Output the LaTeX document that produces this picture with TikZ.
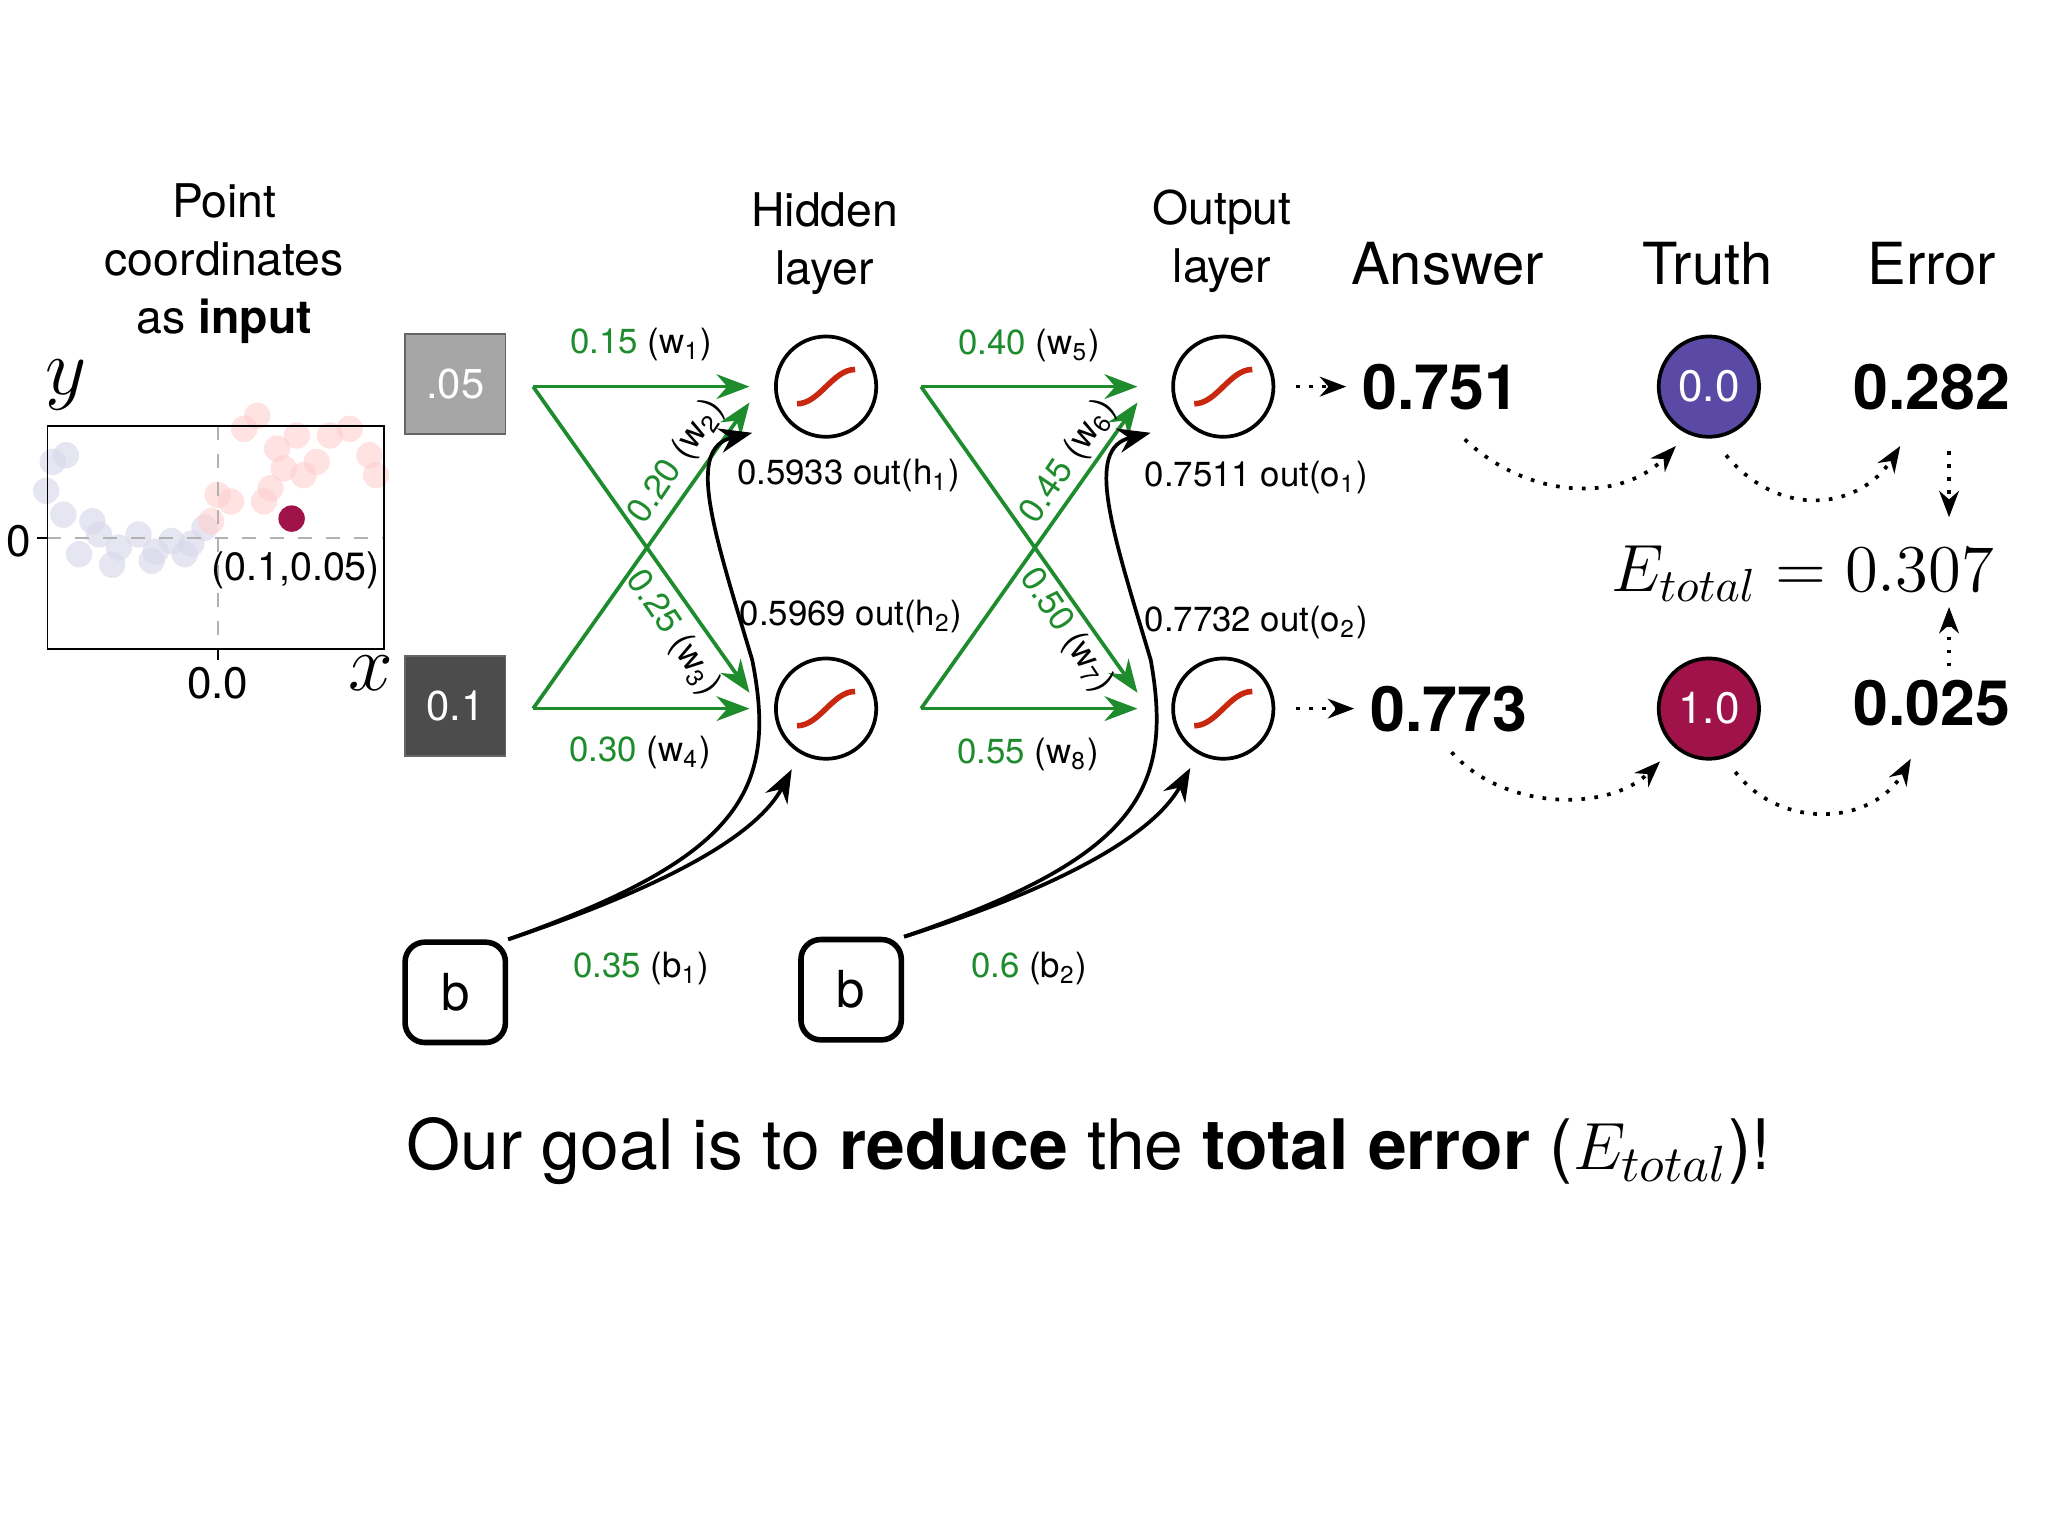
\documentclass[tikz,border=0pt]{standalone}
\usepackage{fontspec}
\setmainfont{TeX Gyre Heros}
\usetikzlibrary{arrows.meta}
\definecolor{gr}{HTML}{1E8C2D}
\definecolor{sig}{HTML}{C8280F}
\definecolor{tp}{HTML}{5B4AA5}
\definecolor{tr}{HTML}{A0124A}
\tikzset{
 neuron/.style={circle,draw,thick,minimum size=0.76cm,inner sep=0},
 inbox/.style={draw=black!60,minimum size=0.76cm,text=white,font=\fontsize{9}{9}\selectfont},
 bbox/.style={draw,very thick,rounded corners=0.15cm,minimum size=0.76cm,font=\fontsize{11}{11}\selectfont},
 garr/.style={gr,thick,-{Stealth[length=2.5mm]}},
 barr/.style={thick,-{Stealth[length=2.5mm]}},
 darr/.style={thick,dotted,-{Stealth[length=2mm]}},
 lbl/.style={font=\fontsize{7.5}{7.5}\selectfont},
 hdr/.style={font=\fontsize{12.5}{13}\selectfont},
 sm/.style={font=\fontsize{10}{12.5}\selectfont,align=center},
 big/.style={font=\bfseries\fontsize{13.5}{14}\selectfont},
}
\begin{document}
\begin{tikzpicture}[x=0.01cm,y=-0.01cm]
\useasboundingbox (0,0) rectangle (1552,1164);
% header texts
\node[sm] (pt) at (170,200) {Point\\coordinates\\as \textbf{input}};
\node[sm] (hl) at (625,185) {Hidden\\layer};
\node[sm] (ol) at (926,183) {Output\\layer};
\node[hdr] (ha) at (1097,200) {Answer};
\node[hdr] (ht) at (1294,200) {Truth};
\node[hdr] (he) at (1464,200) {Error};
% scatter plot
\foreach \p in {(40,350),(48,390),(60,420),(75,405),(90,415),(105,405),(118,418),(130,410),(145,412),(155,400),(85,428),(35,372),(70,395),(115,425),(140,420),(50,345)}
  \fill[blue!30!gray!25,opacity=0.6] \p circle [radius=0.1cm];
\foreach \p in {(165,375),(175,380),(185,325),(195,315),(210,340),(215,355),(225,330),(240,350),(250,330),(265,325),(280,345),(285,360),(205,370),(200,380),(160,395),(230,360)}
  \fill[red!40!pink!35,opacity=0.6] \p circle [radius=0.1cm];
\draw[thin,dashed,gray!60] (36,408) -- (291,408);
\draw[thin,dashed,gray!60] (165,323) -- (165,492);
\draw (36,323) rectangle (291,492);
\draw (28,408) -- (36,408);
\draw (165,492) -- (165,500);
\node[font=\fontsize{9.5}{10}\selectfont] (z0) at (14,410) {0};
\node[font=\fontsize{9.5}{10}\selectfont] (z1) at (165,518) {0.0};
\node[font=\fontsize{16}{16}\selectfont] (ya) at (50,292) {$y$};
\node[font=\fontsize{16}{16}\selectfont] (xa) at (281,510) {$x$};
\fill[tr] (221,393) circle [radius=0.1cm];
\node[font=\fontsize{8.5}{9}\selectfont] (pl) at (224,432) {(0.1,0.05)};
% inputs
\node[inbox,fill=black!35] (i1) at (345,291) {.05};
\node[inbox,fill=black!70] (i2) at (345,535) {0.1};
% neurons
\foreach \n/\x/\y in {h1/626/293,h2/626/537,o1/927/293,o2/927/537}{
 \node[neuron] (\n) at (\x,\y) {};
 \draw[sig,very thick,shift={(\n)}] (-22,13) .. controls (-5,13) and (5,-13) .. (22,-13);
}
% bias
\node[bbox] (b1) at (345,752) {b};
\node[bbox] (b2) at (645,750) {b};
% weights
\coordinate (s1) at (404,293); \coordinate (s2) at (404,537);
\coordinate (t1) at (568,293); \coordinate (t2) at (568,537);
\coordinate (t1b) at (568,305); \coordinate (t2b) at (568,525);
\draw[garr] (s1) -- (t1);
\draw[garr] (s1) -- (t2b);
\draw[garr] (s2) -- (t1b);
\draw[garr] (s2) -- (t2);
\coordinate (u1) at (698,293); \coordinate (u2) at (698,537);
\coordinate (v1) at (862,293); \coordinate (v2) at (862,537);
\coordinate (v1b) at (862,305); \coordinate (v2b) at (862,525);
\draw[garr] (u1) -- (v1);
\draw[garr] (u1) -- (v2b);
\draw[garr] (u2) -- (v1b);
\draw[garr] (u2) -- (v2);
\node[lbl] (w1) at (486,261) {\textcolor{gr}{0.15} (w\textsubscript{1})};
\node[lbl] (w4) at (485,570) {\textcolor{gr}{0.30} (w\textsubscript{4})};
\node[lbl,rotate=56] (w2) at (513,350) {\textcolor{gr}{0.20} (w\textsubscript{2})};
\node[lbl,rotate=-56] (w3) at (510,480) {\textcolor{gr}{0.25} (w\textsubscript{3})};
\node[lbl] (w5) at (780,262) {\textcolor{gr}{0.40} (w\textsubscript{5})};
\node[lbl] (w8) at (779,572) {\textcolor{gr}{0.55} (w\textsubscript{8})};
\node[lbl,rotate=56] (w6) at (810,350) {\textcolor{gr}{0.45} (w\textsubscript{6})};
\node[lbl,rotate=-56] (w7) at (808,478) {\textcolor{gr}{0.50} (w\textsubscript{7})};
% bias curves
\coordinate (bh1) at (570,328); \coordinate (bh2) at (600,583);
\coordinate (bo1) at (872,328); \coordinate (bo2) at (902,582);
\draw[barr] (b1.north east) .. controls (560,650) and (590,600) .. (570,500) .. controls (540,400) and (520,340) .. (bh1);
\draw[barr] (b1.north east) .. controls (480,680) and (570,640) .. (bh2);
\draw[barr] (b2.north east) .. controls (860,650) and (890,600) .. (872,500) .. controls (842,400) and (822,340) .. (bo1);
\draw[barr] (b2.north east) .. controls (780,680) and (870,640) .. (bo2);
\node[lbl] (lb1) at (486,734) {\textcolor{gr}{0.35} (b\textsubscript{1})};
\node[lbl] (lb2) at (780,734) {\textcolor{gr}{0.6} (b\textsubscript{2})};
% out labels
\node[lbl] (oh1) at (643,360) {0.5933 out(h\textsubscript{1})};
\node[lbl] (oh2) at (645,467) {0.5969 out(h\textsubscript{2})};
\node[lbl] (oo1) at (952,362) {0.7511 out(o\textsubscript{1})};
\node[lbl] (oo2) at (952,472) {0.7732 out(o\textsubscript{2})};
% answers
\node[big] (a1) at (1092,293) {0.751};
\node[big] (a2) at (1098,537) {0.773};
\coordinate (q1) at (982,293); \coordinate (q2) at (982,537);
\draw[darr] (q1) -- (a1.west);
\draw[darr] (q2) -- (a2.west);
\node[neuron,fill=tp,text=white,font=\fontsize{9.5}{9.5}\selectfont] (tr1) at (1295,293) {0.0};
\node[neuron,fill=tr,text=white,font=\fontsize{9.5}{9.5}\selectfont] (tr2) at (1295,537) {1.0};
\node[big] (e1) at (1464,293) {0.282};
\node[big] (e2) at (1464,533) {0.025};
\coordinate (c1a) at (1110,333); \coordinate (c1b) at (1270,338);
\coordinate (c2a) at (1308,345); \coordinate (c2b) at (1440,338);
\coordinate (c3a) at (1100,570); \coordinate (c3b) at (1258,577);
\coordinate (c4a) at (1315,585); \coordinate (c4b) at (1448,575);
\draw[darr] (c1a) .. controls (1160,380) and (1230,380) .. (c1b);
\draw[darr] (c2a) .. controls (1350,395) and (1410,385) .. (c2b);
\draw[darr] (c3a) .. controls (1140,615) and (1220,615) .. (c3b);
\draw[darr] (c4a) .. controls (1350,630) and (1420,625) .. (c4b);
\node[font=\fontsize{14.5}{15}\selectfont] (et) at (1366,435) {$E_{total}=0.307$};
\coordinate (d1) at (1477,342); \coordinate (d2) at (1477,505);
\coordinate (d1e) at (1477,392); \coordinate (d2e) at (1477,460);
\draw[darr] (d1) -- (d1e);
\draw[darr] (d2) -- (d2e);
% bottom
\node[font=\fontsize{15}{15}\selectfont] (goal) at (825,872) {Our goal is to \textbf{reduce} the \textbf{total error} ($E_{total}$)!};
\end{tikzpicture}
\end{document}
